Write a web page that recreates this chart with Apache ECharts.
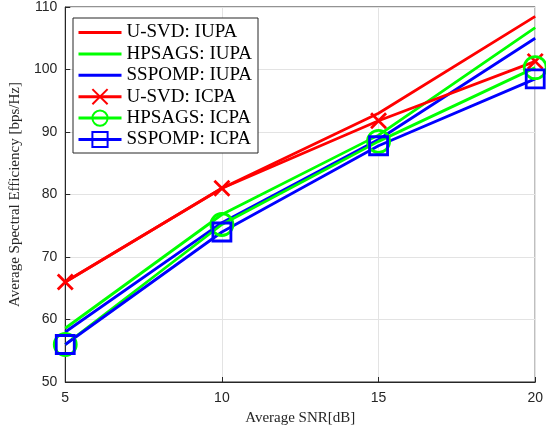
<!DOCTYPE html>
<html><head><meta charset="utf-8">
<script src="https://cdn.jsdelivr.net/npm/echarts@6/dist/echarts.min.js"></script>
<style>html,body{margin:0;padding:0;background:#fff}#c{width:546px;height:431px}</style>
</head><body><div id="c"></div>
<script>
var snr = [5, 10, 15, 20];
var usvdIUPA = [66, 81, 93, 108.5];
var hpsagsIUPA = [58.6, 76.8, 89.5, 106.7];
var sspompIUPA = [58, 75.5, 88.8, 105];
var usvdICPA = [66, 81, 91.8, 101.3];
var hpsagsICPA = [56, 75.2, 88.5, 100.3];
var sspompICPA = [56, 74, 87.8, 98.5];
var xTicks = [5, 10, 15, 20];
var yTicks = [50, 60, 70, 80, 90, 100, 110];

function pts(ys){ return snr.map(function(x,i){ return [x, ys[i]]; }); }
var RED='#ff0000', GREEN='#00ff00', BLUE='#0000ff';
function mk(name, ys, color, symbol, size){
  var s = {name:name, type:'line', data:pts(ys), lineStyle:{color:color, width:2.8},
    animation:false, z: 2};
  if(!symbol){
    s.symbol='circle'; s.showSymbol=false; s.symbolSize=0;
    s.itemStyle={color:'rgba(0,0,0,0)', borderWidth:0};
  } else {
    s.symbol=symbol; s.symbolSize=size; s.showSymbol=true;
    s.itemStyle={color:'rgba(0,0,0,0)', borderColor:color, borderWidth:2.8};
  }
  return s;
}
var cross = 'path://M0,0 L10,10 M10,0 L0,10';
var chart = echarts.init(document.getElementById('c'));
chart.setOption({
  backgroundColor:'#fff',
  animation:false,
  grid:{left:62, right:6, top:7, bottom:48, show:true, borderColor:'#262626', borderWidth:1},
  xAxis:{type:'value', min:5, max:20, interval:5,
    name:'Average SNR[dB]', nameLocation:'middle', nameGap:29,
    nameTextStyle:{fontFamily:'Liberation Serif', fontSize:15, color:'#262626'},
    axisLine:{show:true, lineStyle:{color:'#262626'}},
    axisTick:{show:true, inside:true, length:5, lineStyle:{color:'#262626'}},
    axisLabel:{fontFamily:'Liberation Sans', fontSize:14, color:'#262626', margin:9},
    splitLine:{show:true, lineStyle:{color:'#e3e3e3'}}},
  yAxis:{type:'value', min:50, max:110, interval:10,
    name:'Average Spectral Efficiency [bps/Hz]', nameLocation:'middle', nameGap:41,
    nameTextStyle:{fontFamily:'Liberation Serif', fontSize:15, color:'#262626'},
    axisLine:{show:true, lineStyle:{color:'#262626'}},
    axisTick:{show:true, inside:true, length:5, lineStyle:{color:'#262626'}},
    axisLabel:{fontFamily:'Liberation Sans', fontSize:14, color:'#262626', margin:8},
    splitLine:{show:true, lineStyle:{color:'#e3e3e3'}}},
  legend:{orient:'vertical', left:73, top:18, itemWidth:43, itemHeight:19, itemGap:2.4,
    backgroundColor:'#fff', borderColor:'#262626', borderWidth:1, padding:[5,6,4,4],
    lineStyle:{width:3},
    textStyle:{fontFamily:'Liberation Serif', fontSize:19, color:'#000'},
    data:['U-SVD: IUPA','HPSAGS: IUPA','SSPOMP: IUPA','U-SVD: ICPA','HPSAGS: ICPA','SSPOMP: ICPA']},
  series:[
    mk('U-SVD: IUPA', usvdIUPA, RED),
    mk('HPSAGS: IUPA', hpsagsIUPA, GREEN),
    mk('SSPOMP: IUPA', sspompIUPA, BLUE),
    mk('U-SVD: ICPA', usvdICPA, RED, cross, 15),
    mk('HPSAGS: ICPA', hpsagsICPA, GREEN, 'circle', 22),
    mk('SSPOMP: ICPA', sspompICPA, BLUE, 'rect', 18)
  ]
});
</script></body></html>
